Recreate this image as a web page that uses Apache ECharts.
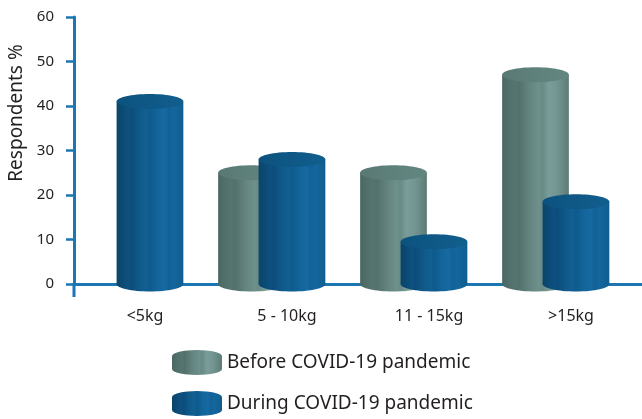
<!DOCTYPE html>
<html>
<head>
<meta charset="utf-8">
<script src="https://cdn.jsdelivr.net/npm/echarts@6/dist/echarts.min.js"></script>
<style>
html, body { margin: 0; padding: 0; background: #fff; }
#chart { width: 642px; height: 419px; }
</style>
</head>
<body>
<div id="chart"></div>
<script>
// data
var categories = ['<5kg', '5 - 10kg', '11 - 15kg', '>15kg'];
var beforeValues = [null, 25, 25, 47];
var duringValues = [41, 28, 9.5, 18.5];
var seriesNames = ['Before COVID-19 pandemic', 'During COVID-19 pandemic'];

var axisBlue = '#1b76b2';
var textColor = '#231f20';
var fontFamily = 'Noto Sans';

function hGrad(stops) {
	return new echarts.graphic.LinearGradient(0, 0, 1, 0, stops.map(function (s) {
		return { offset: s[0], color: s[1] };
	}));
}

// a few extra stops give the thin vertical streaks of the original
var blueBody = [[0, '#0a4468'], [0.1, '#0c4b76'], [0.18, '#0d5080'], [0.22, '#0c4c7a'], [0.35, '#0f5a8a'], [0.45, '#125f93'], [0.5, '#0f5a8b'], [0.62, '#13659c'], [0.72, '#1669a1'], [0.78, '#126297'], [0.85, '#14669d'], [1, '#105d8f']];
var blueTop = [[0, '#0c527e'], [0.5, '#0f5886'], [1, '#115e8d']];
var greyBody = [[0, '#4c6763'], [0.12, '#52706c'], [0.2, '#567571'], [0.25, '#52706c'], [0.4, '#63837f'], [0.55, '#6e918c'], [0.6, '#688a86'], [0.7, '#7a9d99'], [0.82, '#739692'], [1, '#5d7b77']];
var greyTop = [[0, '#587874'], [0.5, '#5f817c'], [1, '#648681']];

// cylinder drawn from the category band, offset is a share of the band width
function cylinder(offset, bodyStops, topStops) {
	return function (params, api) {
		var val = api.value(1);
		if (val == null || isNaN(val)) {
			return;
		}
		var cat = api.value(0);
		var base = api.coord([cat, 0]);
		var top = api.coord([cat, val]);
		var band = api.size([1, 0])[0];
		var w = band * 0.47;
		var cx = base[0] + band * offset;
		var ry = 7.5;
		return {
			type: 'group',
			children: [
				{
					type: 'ellipse',
					shape: { cx: cx, cy: base[1], rx: w / 2, ry: ry },
					style: { fill: hGrad(bodyStops) }
				},
				{
					type: 'rect',
					shape: { x: cx - w / 2, y: top[1], width: w, height: base[1] - top[1] },
					style: { fill: hGrad(bodyStops) }
				},
				{
					type: 'ellipse',
					shape: { cx: cx, cy: top[1], rx: w / 2, ry: ry },
					style: { fill: hGrad(topStops) }
				}
			]
		};
	};
}

function toPairs(values) {
	return values.map(function (v, i) {
		return [i, v];
	});
}

var chart = echarts.init(document.getElementById('chart'));
var option = {
	animation: false,
	textStyle: { fontFamily: fontFamily },
	grid: { left: 74, right: 0, top: 17, bottom: 135 },
	legend: {
		orient: 'vertical',
		left: 172,
		top: 350,
		padding: 0,
		itemWidth: 50,
		itemHeight: 25,
		itemGap: 16,
		icon: 'path://M0,6 A25,6 0 0 1 50,6 L50,19 A25,6 0 0 1 0,19 Z',
		textStyle: { fontSize: 19, color: textColor, fontFamily: fontFamily },
		data: [
			{ name: seriesNames[0], itemStyle: { color: hGrad(greyBody) } },
			{ name: seriesNames[1], itemStyle: { color: hGrad(blueBody) } }
		]
	},
	graphic: [
		{
			type: 'text',
			x: 17,
			y: 113,
			rotation: Math.PI / 2,
			style: {
				text: 'Respondents %',
				fontSize: 19,
				fontFamily: fontFamily,
				fill: textColor,
				textAlign: 'center',
				textVerticalAlign: 'middle'
			}
		},
		{
			// the y axis runs a little below the x axis
			type: 'line',
			shape: { x1: 74, y1: 283, x2: 74, y2: 297 },
			style: { stroke: axisBlue, lineWidth: 3 }
		}
	],
	xAxis: {
		type: 'category',
		data: categories,
		axisLine: { lineStyle: { color: axisBlue, width: 3 } },
		axisTick: { show: false },
		axisLabel: { fontSize: 16, color: textColor, margin: 24 }
	},
	yAxis: {
		type: 'value',
		min: 0,
		max: 60,
		interval: 10,
		splitLine: { show: false },
		axisLine: { show: true, lineStyle: { color: axisBlue, width: 3 } },
		axisTick: { show: true, length: 8, lineStyle: { color: axisBlue, width: 2.5 } },
		axisLabel: { fontSize: 15, color: textColor, margin: 20 }
	},
	series: [
		{
			name: seriesNames[0],
			type: 'custom',
			itemStyle: { color: hGrad(greyBody) },
			renderItem: cylinder(-0.25, greyBody, greyTop),
			data: toPairs(beforeValues)
		},
		{
			name: seriesNames[1],
			type: 'custom',
			itemStyle: { color: hGrad(blueBody) },
			renderItem: cylinder(0.035, blueBody, blueTop),
			data: toPairs(duringValues)
		}
	]
};
chart.setOption(option);
</script>
</body>
</html>
